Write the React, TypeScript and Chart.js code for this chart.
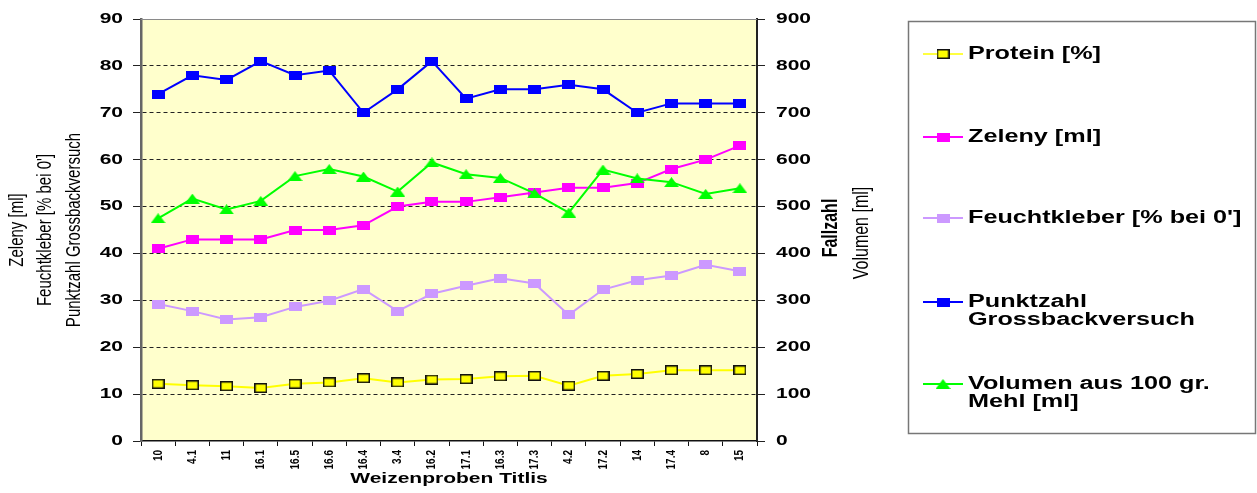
import React, { useEffect, useRef } from "react";
import { Chart, registerables } from "chart.js";

Chart.register(...registerables);

// Sample identifiers (x axis)
const samples = ["10", "4.1", "11", "16.1", "16.5", "16.6", "16.4", "3.4", "16.2", "17.1", "16.3", "17.3", "4.2", "17.2", "14", "17.4", "8", "15"];

// Left axis series
const protein = [12.2, 11.9, 11.7, 11.3, 12.2, 12.5, 13.4, 12.5, 13.1, 13.2, 13.8, 13.9, 11.8, 13.9, 14.3, 15.1, 15.1, 15.1];
const zeleny = [41, 43, 43, 43, 45, 45, 46, 50, 51, 51, 52, 53, 54, 54, 55, 58, 60, 63];
const feuchtkleber = [29.2, 27.7, 25.9, 26.4, 28.6, 29.9, 32.4, 27.7, 31.4, 33.1, 34.7, 33.6, 26.9, 32.3, 34.3, 35.3, 37.6, 36.2];
const punktzahl = [74, 78, 77, 81, 78, 79, 70, 75, 81, 73, 75, 75, 76, 75, 70, 72, 72, 72];

// Right axis series
const volumen = [475, 517, 494, 512, 565, 580, 564, 532, 594, 569, 561, 528, 487, 579, 560, 552, 527, 539];

// Axis ranges
const leftMax = 90;
const leftStep = 10;
const rightMax = 900;
const rightStep = 100;

// Texts
const leftTitles = ["Zeleny [ml]", "Feuchtkleber [% bei 0']", "Punktzahl Grossbackversuch"];
const rightTitles = ["Fallzahl", "Volumen [ml]"];
const xTitle = "Weizenproben Titlis";
const legendLabels = [
  ["Protein [%]"],
  ["Zeleny [ml]"],
  ["Feuchtkleber [% bei 0']"],
  ["Punktzahl", "Grossbackversuch"],
  ["Volumen aus 100 gr.", "Mehl [ml]"],
];

const SANS = "'Liberation Sans', Arial, sans-serif";
const STRETCH = 1.4;
const TICK_STRETCH = 1.5;

function makeRect(w: number, h: number, fill: string, stroke?: string) {
  const c = document.createElement("canvas");
  c.width = w;
  c.height = h;
  const g = c.getContext("2d")!;
  g.fillStyle = fill;
  g.fillRect(0, 0, w, h);
  if (stroke) {
    g.strokeStyle = stroke;
    g.lineWidth = 1.5;
    g.strokeRect(0.75, 0.75, w - 1.5, h - 1.5);
  }
  return c;
}

function makeTriangle(w: number, h: number, fill: string) {
  const c = document.createElement("canvas");
  c.width = w;
  c.height = h;
  const g = c.getContext("2d")!;
  g.fillStyle = fill;
  g.beginPath();
  g.moveTo(w / 2, 0);
  g.lineTo(w, h);
  g.lineTo(0, h);
  g.closePath();
  g.fill();
  return c;
}

export default function App() {
  const canvasRef = useRef<HTMLCanvasElement | null>(null);

  useEffect(() => {
    if (!canvasRef.current) return;

    const colors = ["#FFFF00", "#FF00FF", "#CC99FF", "#0000FF", "#00FF00"];
    const markers = [
      makeRect(13, 10, "#FFFF00", "#111111"),
      makeRect(13, 9, "#FF00FF"),
      makeRect(13, 9, "#CC99FF"),
      makeRect(13, 9, "#0000FF"),
      makeTriangle(15, 10, "#00FF00"),
    ];

    const decorations = {
      id: "decorations",
      beforeDraw(chart: any) {
        const { ctx, chartArea } = chart;
        ctx.save();
        ctx.fillStyle = "#FFFFCC";
        ctx.fillRect(chartArea.left, chartArea.top, chartArea.right - chartArea.left, chartArea.bottom - chartArea.top);
        ctx.restore();
      },
      afterDraw(chart: any) {
        const { ctx, chartArea } = chart;
        const midY = (chartArea.top + chartArea.bottom) / 2;
        const midX = (chartArea.left + chartArea.right) / 2;

        // thin frame line along the top of the plot area
        ctx.save();
        ctx.strokeStyle = "#8a8a8a";
        ctx.lineWidth = 1;
        ctx.beginPath();
        ctx.moveTo(chartArea.left, chartArea.top + 0.5);
        ctx.lineTo(chartArea.right, chartArea.top + 0.5);
        ctx.stroke();
        ctx.restore();

        // value labels of both vertical axes
        const drawTickLabels = (scale: any, x: number, align: CanvasTextAlign) => {
          scale.ticks.forEach((t: any, i: number) => {
            const py = scale.getPixelForTick(i);
            ctx.save();
            ctx.translate(x, py);
            ctx.scale(TICK_STRETCH, 1);
            ctx.font = `bold 14px ${SANS}`;
            ctx.fillStyle = "#000";
            ctx.textAlign = align;
            ctx.textBaseline = "middle";
            ctx.fillText(String(t.value), 0, 0);
            ctx.restore();
          });
        };
        drawTickLabels(chart.scales.y, 123, "right");
        drawTickLabels(chart.scales.y1, 776, "left");

        // category labels, rotated, reading upwards
        const xs = chart.scales.x;
        samples.forEach((s, i) => {
          const px = xs.getPixelForValue(i);
          ctx.save();
          ctx.translate(px, chartArea.bottom + 9);
          ctx.scale(1.3, 1);
          ctx.rotate(-Math.PI / 2);
          ctx.font = `bold 10px ${SANS}`;
          ctx.fillStyle = "#000";
          ctx.textAlign = "right";
          ctx.textBaseline = "middle";
          ctx.fillText(s, 0, 0);
          ctx.restore();
        });

        const drawVertical = (text: string, x: number, y: number, font: string) => {
          ctx.save();
          ctx.translate(x, y);
          ctx.scale(STRETCH, 1);
          ctx.rotate(-Math.PI / 2);
          ctx.font = font;
          ctx.fillStyle = "#000";
          ctx.textAlign = "center";
          ctx.textBaseline = "middle";
          ctx.fillText(text, 0, 0);
          ctx.restore();
        };

        // axis titles
        const leftX = [17, 45, 74];
        leftTitles.forEach((t, i) => drawVertical(t, leftX[i], midY, `15px ${SANS}`));
        drawVertical(rightTitles[0], 831, midY - 2, `bold 16px ${SANS}`);
        drawVertical(rightTitles[1], 862, midY + 3, `16px ${SANS}`);

        ctx.save();
        ctx.translate(midX, 483);
        ctx.scale(STRETCH, 1);
        ctx.font = `bold 15px ${SANS}`;
        ctx.fillStyle = "#000";
        ctx.textAlign = "center";
        ctx.textBaseline = "alphabetic";
        ctx.fillText(xTitle, 0, 0);
        ctx.restore();

        // legend box
        ctx.save();
        ctx.fillStyle = "#FFFFFF";
        ctx.fillRect(908, 21, 347, 412);
        ctx.strokeStyle = "#777777";
        ctx.lineWidth = 1.5;
        ctx.strokeRect(908.5, 21.5, 347, 412);
        const rowY = [54, 137, 218, 302, 384];
        legendLabels.forEach((lines, i) => {
          const y = rowY[i];
          ctx.strokeStyle = colors[i];
          ctx.lineWidth = i === 0 ? 1.5 : 2;
          ctx.beginPath();
          ctx.moveTo(923, y);
          ctx.lineTo(963, y);
          ctx.stroke();
          const m = markers[i];
          ctx.drawImage(m, 943 - m.width / 2, y - m.height / 2);
          lines.forEach((line, j) => {
            ctx.save();
            ctx.translate(968, y + j * 18);
            ctx.scale(STRETCH, 1);
            ctx.font = `bold 18px ${SANS}`;
            ctx.fillStyle = "#000";
            ctx.textAlign = "left";
            ctx.textBaseline = "middle";
            ctx.fillText(line, 0, 0);
            ctx.restore();
          });
        });
        ctx.restore();
      },
    };

    const lineSet = (label: string, data: number[], idx: number, axis: string, order: number) => ({
      label,
      data,
      yAxisID: axis,
      borderColor: colors[idx],
      backgroundColor: colors[idx],
      borderWidth: 2,
      pointStyle: markers[idx],
      pointRadius: 5,
      tension: 0,
      fill: false,
      order,
    });

    const chart = new Chart(canvasRef.current, {
      type: "line",
      data: {
        labels: samples,
        datasets: [
          lineSet("Protein [%]", protein, 0, "y", 5),
          lineSet("Zeleny [ml]", zeleny, 1, "y", 4),
          lineSet("Feuchtkleber [% bei 0']", feuchtkleber, 2, "y", 3),
          lineSet("Punktzahl Grossbackversuch", punktzahl, 3, "y", 2),
          lineSet("Volumen aus 100 gr. Mehl [ml]", volumen, 4, "y1", 1),
        ] as any,
      },
      options: {
        animation: false,
        responsive: false,
        maintainAspectRatio: false,
        events: [],
        layout: { padding: { top: 19, left: 0, right: 0, bottom: 0 } },
        plugins: {
          legend: { display: false },
          tooltip: { enabled: false },
          title: { display: false },
        },
        scales: {
          x: {
            offset: true,
            afterFit: (s: any) => {
              s.height = 52;
            },
            grid: {
              offset: true,
              drawOnChartArea: false,
              drawTicks: true,
              tickLength: 5,
              tickColor: "#111",
              tickWidth: 1,
            },
            border: { display: true, color: "#111", width: 1.5 },
            ticks: {
              autoSkip: false,
              display: false,
            },
          },
          y: {
            position: "left",
            min: 0,
            max: leftMax,
            afterFit: (s: any) => {
              s.width = 141;
            },
            ticks: {
              stepSize: leftStep,
              display: false,
            },
            grid: {
              drawTicks: true,
              tickLength: 8,
              tickColor: "#222",
              tickWidth: 1,
              lineWidth: 1,
              color: (c: any) =>
                c.tick && (c.tick.value === 0 || c.tick.value === leftMax) ? "rgba(0,0,0,0)" : "#222",
            },
            border: { display: true, color: "#666", width: 2.5, dash: [4, 3] },
          },
          y1: {
            position: "right",
            min: 0,
            max: rightMax,
            afterFit: (s: any) => {
              s.width = 500;
            },
            ticks: {
              stepSize: rightStep,
              display: false,
            },
            grid: {
              drawOnChartArea: false,
              drawTicks: true,
              tickLength: 8,
              tickColor: "#222",
              tickWidth: 1,
            },
            border: { display: true, color: "#222", width: 2 },
          },
        },
      },
      plugins: [decorations],
    });

    return () => chart.destroy();
  }, []);

  return (
    <div style={{ position: "fixed", left: 0, top: 0, width: 1257, height: 493, background: "#fff" }}>
      <canvas ref={canvasRef} width={1257} height={493} />
    </div>
  );
}
